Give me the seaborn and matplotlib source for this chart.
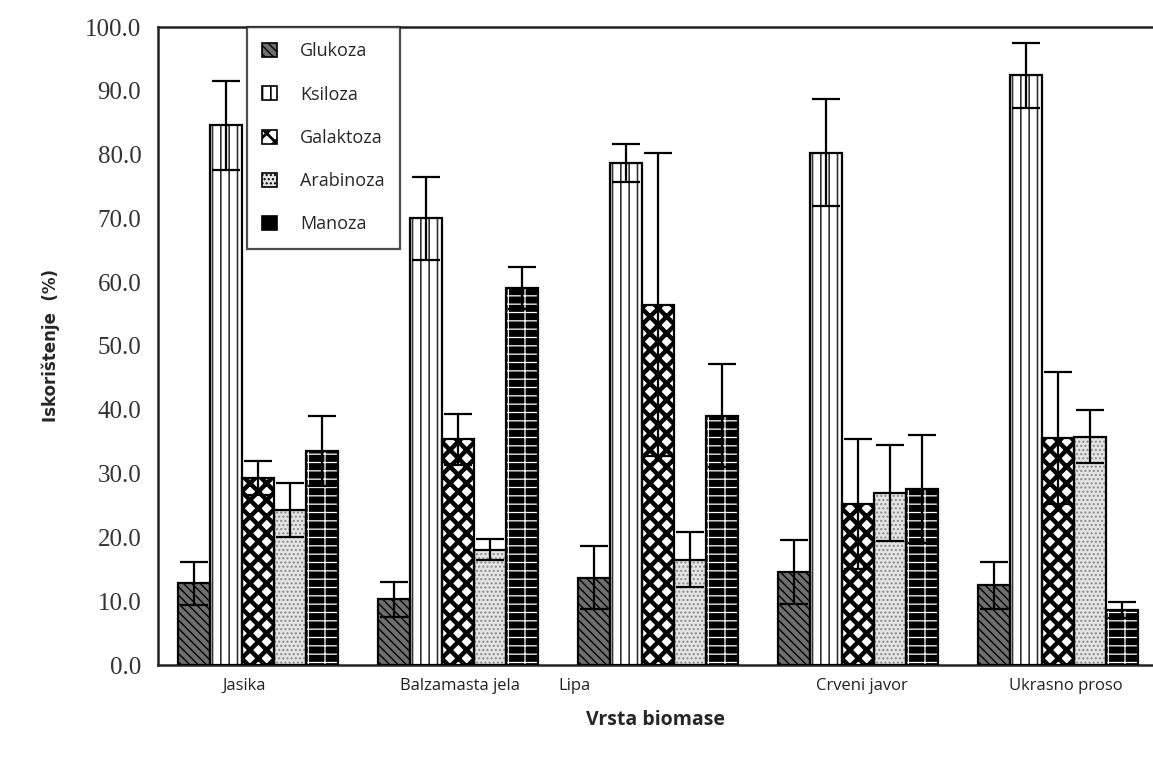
import seaborn as sns
import matplotlib.pyplot as plt
from matplotlib.patches import Patch, Rectangle
import pandas as pd
import numpy as np

biomass = ["Jasika", "Balzamasta jela", "Lipa", "Crveni javor", "Ukrasno proso"]
sugars = ["Glukoza", "Ksiloza", "Galaktoza", "Arabinoza", "Manoza"]

# yield per sugar, one value per biomass type
glukoza = [12.8, 10.3, 13.7, 14.6, 12.5]
ksiloza = [84.6, 70.0, 78.7, 80.3, 92.4]
galaktoza = [29.3, 35.4, 56.5, 25.2, 35.6]
arabinoza = [24.3, 18.1, 16.5, 27.0, 35.8]
manoza = [33.5, 59.1, 39.1, 27.6, 8.6]

# error (+/-)
glukoza_err = [3.4, 2.7, 4.9, 5.0, 3.7]
ksiloza_err = [7.0, 6.5, 3.0, 8.4, 5.1]
galaktoza_err = [2.7, 4.0, 23.8, 10.2, 10.4]
arabinoza_err = [4.2, 1.7, 4.3, 7.5, 4.2]
manoza_err = [5.5, 3.3, 8.1, 8.4, 1.2]

values = [glukoza, ksiloza, galaktoza, arabinoza, manoza]
errors = [glukoza_err, ksiloza_err, galaktoza_err, arabinoza_err, manoza_err]

rows = []
for s, vals, errs in zip(sugars, values, errors):
    for b, v, e in zip(biomass, vals, errs):
        rows.append({"Biomasa": b, "Secer": s, "Vrijednost": v, "Err": e})
df = pd.DataFrame(rows)

sns.set_theme(style="white")
plt.rcParams['hatch.linewidth'] = 1.2

# face, hatch, hatch colour per sugar
styles = {
    "Glukoza": ("#6e6e6e", "\\\\\\\\", "black"),
    "Ksiloza": ("white", "||", "#333333"),
    "Galaktoza": ("white", "xx", "black"),
    "Arabinoza": ("#e4e4e4", "....", "#8a8a8a"),
    "Manoza": ("black", "-+", "white"),
}
hatch_lw = {"Glukoza": 1.0, "Ksiloza": 1.2, "Galaktoza": 3.2, "Arabinoza": 1.0, "Manoza": 0.9}

fig = plt.figure(figsize=(11.53, 7.64), dpi=100)
ax = fig.add_axes([158 / 1153, 1 - 665 / 764, 995 / 1153, (665 - 27) / 764])

sns.barplot(data=df, x="Biomasa", y="Vrijednost", hue="Secer", order=biomass,
            hue_order=sugars, errorbar=None, width=0.8, legend=False, ax=ax)

bars = ax.patches[:len(sugars) * len(biomass)]
for i, p in enumerate(bars):
    s = sugars[i // len(biomass)]
    j = i % len(biomass)
    face, hatch, hcol = styles[s]
    p.set_facecolor(face)
    p.set_hatch(hatch)
    p.set_edgecolor(hcol)
    p.set_linewidth(0)
    if hasattr(p, "set_hatch_linewidth"):
        p.set_hatch_linewidth(hatch_lw[s])
    # outline on top
    ax.add_patch(Rectangle((p.get_x(), 0), p.get_width(), p.get_height(),
                           fill=False, edgecolor="black", linewidth=1.6, zorder=3))
    ax.errorbar(p.get_x() + p.get_width() / 2, p.get_height(),
                yerr=errors[sugars.index(s)][j], fmt="none", ecolor="black",
                elinewidth=1.6, capsize=10, capthick=1.6, zorder=4)

ax.set_ylim(0, 100)
ax.set_xlim(-0.5, 4.475)
ax.set_yticks(np.arange(0, 101, 10))
ax.set_yticklabels([f"{v:.1f}" for v in np.arange(0, 101, 10)],
                   fontfamily="Liberation Serif", fontsize=18, color="#333333")

# tick marks at category boundaries, labels below the groups
ax.set_xticks(np.arange(-0.5, 4.5, 1.0))
ax.set_xticklabels([])
ax.set_xticks([-0.07, 1.01, 1.58, 3.02, 4.04], minor=True)
ax.set_xticklabels(biomass, minor=True, fontfamily="Open Sans", fontsize=12, color="#222222")
ax.tick_params(axis="x", which="minor", length=0, pad=9)
ax.tick_params(axis="x", which="major", direction="out", length=7, width=1.5, color="#333333")
ax.tick_params(axis="y", direction="out", length=8, width=1.5, color="#333333", pad=4)

for side in ["left", "bottom", "top"]:
    ax.spines[side].set_color("#222222")
    ax.spines[side].set_linewidth(1.8)
ax.spines["right"].set_visible(False)

ax.set_xlabel("Vrsta biomase", fontfamily="Open Sans", fontweight="bold", fontsize=14, labelpad=12)
ax.set_ylabel("Iskorištenje  (%)", fontfamily="DejaVu Sans", fontweight="bold", fontsize=12, labelpad=18)

handles = []
for s in sugars:
    face, hatch, hcol = styles[s]
    handles.append(Patch(facecolor=face, hatch=hatch, edgecolor="black", linewidth=1.2, label=s))
leg = ax.legend(handles=handles, loc="upper left", bbox_to_anchor=(0.0894, 1.0), borderaxespad=0,
                frameon=True, fancybox=False, prop={"family": "Open Sans", "size": 13},
                handlelength=0.8, handleheight=0.8, handletextpad=1.3, labelspacing=1.4,
                borderpad=0.85)
for s, lp in zip(sugars, leg.get_patches()):
    lp.set_edgecolor("black")
    if hasattr(lp, "set_hatch_linewidth"):
        lp.set_hatch_linewidth(min(hatch_lw[s], 2.0))
leg.get_frame().set_edgecolor("#222222")
leg.get_frame().set_linewidth(1.6)
leg.set_zorder(10)

fig.savefig("out.png", dpi=100)
